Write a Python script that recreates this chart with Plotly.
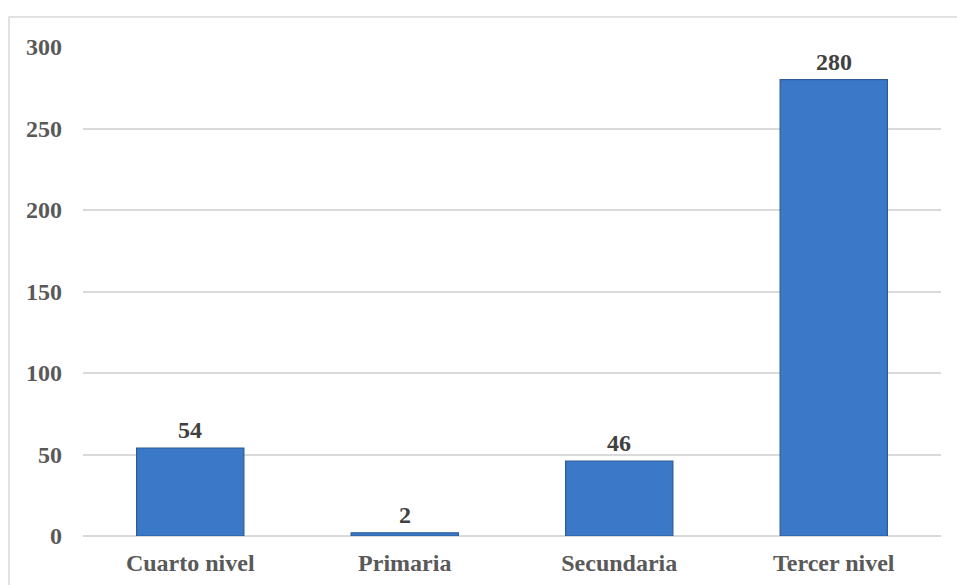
import plotly.graph_objects as go

categorias = ["Cuarto nivel", "Primaria", "Secundaria", "Tercer nivel"]
valores = [54, 2, 46, 280]
ticks_y = [0, 50, 100, 150, 200, 250, 300]

W, H = 957, 585
L, R, T, B = 83, 16, 47, 49
pw, ph = W - L - R, H - T - B
SERIF = "Times New Roman, Liberation Serif, Tinos, serif"

fig = go.Figure()
fig.add_trace(go.Bar(
    x=categorias,
    y=valores,
    width=0.5,
    marker=dict(color="#3b78c8", line=dict(color="#2c5a96", width=1.2)),
    hoverinfo="skip",
))

# value labels above each bar
for c, v in zip(categorias, valores):
    fig.add_annotation(
        x=c, y=v, text=f"<b>{v}</b>", showarrow=False,
        yanchor="bottom", yshift=3,
        font=dict(family=SERIF, size=24, color="#404040"),
    )

# outer chart frame
fig.add_shape(
    type="rect", xref="paper", yref="paper",
    x0=(9 - L) / pw, x1=(960 - L) / pw,
    y0=-(H + 5 - (H - B)) / ph, y1=1 + (T - 17) / ph,
    line=dict(color="#d9d9d9", width=1.5), fillcolor="rgba(0,0,0,0)",
    layer="below",
)

tick_font = dict(family=SERIF, size=24, color="#595959")

fig.update_layout(
    width=W, height=H,
    margin=dict(l=L, r=R, t=T, b=B, autoexpand=False),
    paper_bgcolor="white", plot_bgcolor="white",
    showlegend=False,
    font=dict(family=SERIF, size=24, color="#595959"),
    xaxis=dict(
        showgrid=False, showline=False, zeroline=False, automargin=False,
        tickvals=categorias, ticktext=[f"<b>{c}</b>" for c in categorias],
        ticks="", tickfont=tick_font, ticklabelstandoff=10,
    ),
    yaxis=dict(
        range=[0, 300], tickvals=ticks_y, automargin=False,
        ticktext=[f"<b>{t}</b>" for t in ticks_y],
        showgrid=True, gridcolor="#d9d9d9", gridwidth=1.5,
        zeroline=True, zerolinecolor="#d9d9d9", zerolinewidth=1.5,
        showline=False, ticks="", tickfont=tick_font,
        ticklabelstandoff=20,
    ),
)

fig.write_html("out.html")
